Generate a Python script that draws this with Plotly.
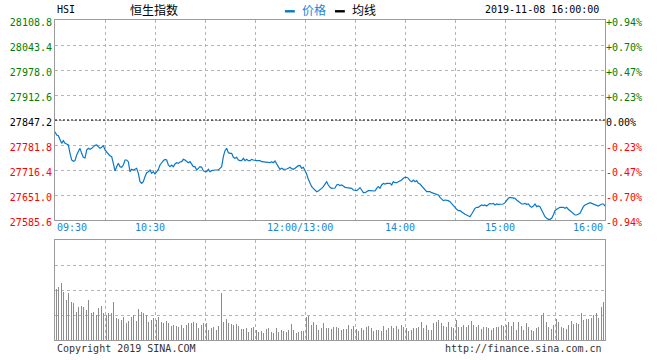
import plotly.graph_objects as go

# ---------------- data ----------------
prev_close = 27847.2

# one value per trading minute, 09:30 -> 12:00/13:00 -> 16:00 (331 minutes)
price = [
    27816.7, 27808.0, 27806.2, 27794.9, 27786.2, 27793.1, 27786.2, 27784.4, 27781.8, 27760.0,
    27742.6, 27739.1, 27740.8, 27755.6, 27766.1, 27773.1, 27760.0, 27749.5, 27747.8, 27768.7,
    27773.1, 27770.5, 27773.1, 27777.4, 27780.9, 27781.8, 27777.4, 27773.1, 27775.7, 27780.9,
    27768.7, 27762.6, 27758.3, 27753.9, 27751.3, 27733.8, 27713.8, 27725.1, 27733.8, 27725.1,
    27723.4, 27729.5, 27742.6, 27742.6, 27738.2, 27712.0, 27718.1, 27716.4, 27718.1, 27720.8,
    27707.7, 27685.9, 27681.5, 27685.9, 27699.0, 27709.4, 27712.0, 27716.4, 27707.7, 27712.0,
    27705.9, 27712.0, 27718.1, 27729.5, 27735.6, 27740.8, 27744.3, 27742.6, 27729.5, 27725.1,
    27729.5, 27725.1, 27732.1, 27735.6, 27733.8, 27737.3, 27738.2, 27744.3, 27742.6, 27739.1,
    27735.6, 27738.2, 27732.1, 27725.1, 27725.1, 27716.4, 27720.8, 27725.1, 27723.4, 27714.7,
    27712.0, 27712.0, 27718.1, 27712.0, 27714.7, 27716.4, 27716.4, 27716.4, 27716.4, 27720.8,
    27725.1, 27751.3, 27767.0, 27773.1, 27761.7, 27760.0, 27760.0, 27749.5, 27746.9, 27749.5,
    27742.6, 27740.8, 27740.8, 27746.9, 27740.8, 27744.3, 27740.8, 27740.8, 27744.3, 27742.6,
    27740.8, 27740.8, 27740.8, 27740.8, 27738.2, 27737.3, 27737.3, 27735.6, 27735.6, 27735.6,
    27738.2, 27735.6, 27739.9, 27733.8, 27725.1, 27718.1, 27720.8, 27718.1, 27718.1, 27719.0,
    27720.8, 27723.4, 27719.9, 27718.1, 27720.8, 27725.1, 27727.7, 27728.6, 27720.8, 27723.4,
    27716.4, 27705.9, 27692.0, 27679.8, 27672.8, 27668.4, 27664.1, 27659.7, 27661.5, 27664.1,
    27668.4, 27672.8, 27679.8, 27685.9, 27677.2, 27671.1, 27668.4, 27668.4, 27669.3, 27677.2,
    27678.9, 27675.4, 27677.2, 27674.5, 27671.1, 27670.2, 27669.3, 27670.2, 27668.4, 27664.1,
    27662.3, 27662.3, 27665.8, 27670.2, 27664.1, 27657.1, 27657.1, 27659.7, 27662.3, 27662.3,
    27662.3, 27662.3, 27661.5, 27668.4, 27672.8, 27668.4, 27677.2, 27681.5, 27679.8, 27681.5,
    27681.5, 27681.5, 27677.2, 27685.9, 27683.3, 27683.3, 27685.9, 27687.6, 27690.2, 27694.6,
    27697.2, 27697.2, 27694.6, 27688.5, 27685.9, 27690.2, 27685.9, 27688.5, 27681.5, 27679.8,
    27674.5, 27668.4, 27664.1, 27659.7, 27659.7, 27659.7, 27657.1, 27655.4, 27653.6, 27651.0,
    27651.0, 27644.9, 27639.7, 27636.2, 27637.9, 27637.9, 27636.2, 27633.6, 27627.5, 27624.8,
    27618.7, 27613.5, 27610.0, 27610.0, 27606.5, 27603.0, 27600.4, 27598.7, 27596.1, 27594.3,
    27601.3, 27610.0, 27616.1, 27618.7, 27618.7, 27622.2, 27624.8, 27623.1, 27624.8, 27622.2,
    27626.6, 27629.2, 27627.5, 27629.2, 27624.8, 27627.5, 27626.6, 27626.6, 27626.6, 27627.5,
    27630.9, 27637.9, 27642.3, 27644.9, 27644.0, 27644.0, 27642.3, 27637.9, 27633.6, 27629.2,
    27627.5, 27627.5, 27629.2, 27626.6, 27627.5, 27622.2, 27618.7, 27622.2, 27627.5, 27620.5,
    27622.2, 27620.5, 27611.8, 27603.0, 27594.3, 27590.0, 27587.3, 27587.3, 27590.0, 27598.7,
    27610.0, 27613.5, 27616.1, 27618.7, 27618.7, 27618.7, 27616.1, 27618.7, 27613.5, 27610.0,
    27607.4, 27603.0, 27598.7, 27598.7, 27600.4, 27603.0, 27611.8, 27620.5, 27624.8, 27627.5,
    27629.2, 27630.9, 27629.2, 27627.5, 27624.8, 27624.8, 27622.2, 27624.8, 27627.5, 27627.5, 27622.2,
]

volume = [
    51, 51, 53.3, 61, 57.3, 48.3, 44, 40, 47.3, 42.7,
    38.3, 36.7, 34, 28.3, 33.3, 30, 34, 32.7, 31.7, 30,
    40, 34, 27.3, 28.3, 30, 25, 31.7, 26.7, 34, 27.3,
    33.3, 25, 26.7, 31.7, 27.3, 38.3, 31.7, 21.7, 20.7, 21.7,
    20, 22.7, 16.7, 17.3, 19.3, 37.7, 23.3, 25, 20, 19,
    30.7, 30, 28.3, 26.7, 23.3, 25, 18.3, 26, 20, 21.7,
    18.3, 20, 22.7, 25, 18.3, 17.3, 13.3, 19, 16.7, 13.3,
    14, 15, 16.7, 14, 13.3, 16.7, 15, 11.7, 11.7, 15,
    17.3, 16.7, 17.3, 18.3, 15, 17.3, 11.7, 10, 15, 16.7,
    17.3, 16.7, 10, 16.7, 11.7, 13.3, 12.7, 10, 14, 16.7,
    46.7, 18.3, 20, 20.7, 16.7, 15, 16, 15, 15, 16,
    14, 13.3, 11, 10.7, 11.7, 11.7, 8.3, 10, 11.7, 13.3,
    15, 10, 8.3, 8.3, 9.3, 7.3, 10, 10.7, 11.7, 9.3,
    8.3, 6.7, 12.7, 11.7, 8.3, 9.3, 10, 9.3, 9.3, 8.3,
    10, 6.7, 16, 10, 8.3, 7.3, 8.3, 8.3, 9.3, 8.7,
    41.7, 23.3, 24, 16.7, 15, 18.3, 20, 15, 10, 11.7,
    11.7, 17.3, 17.3, 11.7, 11.7, 12.3, 10.7, 12.7, 10, 13.3,
    11.7, 10, 10, 10.7, 8.3, 10.7, 15, 10.7, 10.7, 14,
    13.3, 10.7, 9.3, 8.3, 11.7, 10, 12.3, 13.3, 14, 11.7,
    11.7, 9.3, 8.3, 10, 10, 13.3, 9.3, 14, 14, 10,
    11.7, 10, 14, 11.7, 9.3, 14, 10.7, 11.7, 15, 13.3,
    20.7, 11.7, 9.3, 6.7, 10, 11.7, 13.3, 11.7, 13.3, 12.7,
    18.3, 11.7, 16.7, 15, 10, 16.7, 10, 16.7, 16.7, 18.3,
    20, 23.3, 16.7, 14, 27.3, 13.3, 18.3, 11.7, 13.3, 11.7,
    23.3, 20, 13.3, 11.7, 13.3, 15, 16.7, 13.3, 15, 13.3,
    19.3, 15, 11.7, 13.3, 15, 13.3, 10.7, 12.7, 11.7, 13.3,
    11.7, 10.7, 10, 11.7, 11.7, 13.3, 13.3, 14, 15, 14,
    16.7, 15, 18.3, 11.7, 14, 18.3, 8.3, 10, 18.3, 10,
    14, 10, 12.7, 16.7, 13.3, 10, 10, 9.3, 16, 11.7,
    13.3, 11.7, 25, 27.3, 11.7, 18.3, 13.3, 15, 10.7, 15,
    18.3, 20.7, 18.3, 10, 13.3, 11.7, 11.7, 10.7, 15, 15,
    19.3, 16, 15, 16.7, 16, 23.3, 26.7, 20, 25, 20.7,
    20.7, 19.3, 21.7, 25, 21.7, 26.7, 21.7, 27.3, 33.3, 38.3, 38,
]

minutes = list(range(len(price)))

price_ticks = [28108.8, 28043.4, 27978.0, 27912.6, 27847.2, 27781.8, 27716.4, 27651.0, 27585.6]
pct_labels = ["+0.94%", "+0.70%", "+0.47%", "+0.23%", "0.00%", "-0.23%", "-0.47%", "-0.70%", "-0.94%"]
time_tick_minutes = [0, 60, 150, 210, 270, 330]
time_tick_labels = ["09:30", "10:30", "12:00/13:00", "14:00", "15:00", "16:00"]
grid_minutes = list(range(0, 331, 30))
volume_max = 100
volume_grid = [25, 50, 75]

symbol = "HSI"
name = "恒生指数"
stamp = "2019-11-08 16:00:00"

# ---------------- styling ----------------
MONO = "DejaVu Sans Mono"
CJK = "Noto Sans CJK SC"
GREEN = "#008000"
RED = "#ff0000"
BLUE_LINE = "#0a78c8"
BLUE_TXT = "#1a86d4"
GRID = "#b4b4b4"
FRAME = "#9a9a9a"

def colored(v, text):
    if v > prev_close + 1e-6:
        c = GREEN
    elif v < prev_close - 1e-6:
        c = RED
    else:
        c = "#000000"
    return f'<span style="color:{c}">{text}</span>'

left_text = [colored(v, f"{v:.1f}") for v in price_ticks]
pct = [(p - prev_close) / prev_close * 100 for p in price]
pct_vals = [(v - prev_close) / prev_close * 100 for v in price_ticks]
right_text = [colored(v, t) for v, t in zip(price_ticks, pct_labels)]
pct_range = [(price_ticks[-1] - prev_close) / prev_close * 100,
             (price_ticks[0] - prev_close) / prev_close * 100]

fig = go.Figure()
fig.add_trace(go.Scatter(x=minutes, y=price, mode="lines",
                         line=dict(color=BLUE_LINE, width=1.2),
                         xaxis="x", yaxis="y", hoverinfo="skip", showlegend=False))
fig.add_trace(go.Scatter(x=minutes, y=pct, mode="lines",
                         line=dict(color="rgba(0,0,0,0)", width=0),
                         xaxis="x", yaxis="y3", hoverinfo="skip", showlegend=False))
fig.add_trace(go.Bar(x=minutes, y=volume, marker=dict(color="#8c8c8c", line=dict(width=0)),
                     width=0.45, xaxis="x2", yaxis="y2", hoverinfo="skip", showlegend=False))

xcommon = dict(range=[0, 330], tickvals=grid_minutes, showticklabels=False,
               showgrid=True, gridcolor=GRID, griddash="dot", gridwidth=1,
               showline=True, mirror=True, linecolor=FRAME, linewidth=1,
               zeroline=False, ticks="", fixedrange=True)

fig.update_layout(
    width=660, height=360,
    margin=dict(l=55, r=55, t=20, b=20, autoexpand=False),
    paper_bgcolor="white", plot_bgcolor="white",
    showlegend=False, bargap=0, hovermode=False,
    xaxis=dict(domain=[0, 1], anchor="y", **xcommon),
    xaxis2=dict(domain=[0, 1], anchor="y2", **xcommon),
    yaxis=dict(domain=[0.375, 1], range=[price_ticks[-1], price_ticks[0]],
               tickvals=price_ticks, ticktext=left_text,
               tickfont=dict(family=MONO, size=10),
               showgrid=True, gridcolor=GRID, griddash="dot",
               showline=True, mirror=True, linecolor=FRAME, linewidth=1,
               zeroline=False, ticks="", ticklabelshift=2, fixedrange=True),
    yaxis3=dict(overlaying="y", side="right", range=pct_range,
                tickvals=pct_vals, ticktext=right_text,
                tickfont=dict(family=MONO, size=10),
                showgrid=False, showline=False, zeroline=False, ticks="",
                ticklabelshift=2, fixedrange=True),
    yaxis2=dict(domain=[0, 0.3125], range=[0, volume_max], tickvals=volume_grid,
                showticklabels=False, showgrid=True, gridcolor=GRID, griddash="dot",
                showline=True, mirror=True, linecolor=FRAME, linewidth=1,
                zeroline=False, ticks="", fixedrange=True),
)

# previous close dashed line
fig.add_shape(type="line", xref="x", yref="y", x0=0, x1=330, y0=prev_close, y1=prev_close,
              line=dict(color="black", width=1, dash="2px,2px"))

# time labels
for m, lab in zip(time_tick_minutes, time_tick_labels):
    if m == time_tick_minutes[0]:
        anchor, shift = "left", 0
    elif m == time_tick_minutes[-1]:
        anchor, shift = "right", 0
    else:
        anchor, shift = "center", -5
    fig.add_annotation(x=m, xref="x", y=0.375, yref="paper", yanchor="top",
                       xanchor=anchor, xshift=shift, yshift=0, text=lab, showarrow=False,
                       font=dict(family=MONO, size=10, color=BLUE_TXT))

hy = 1.033
fig.add_annotation(x=0, xref="paper", y=hy, yref="paper", xanchor="left", yanchor="middle",
                   text=symbol, showarrow=False, font=dict(family=MONO, size=10, color="black"))
fig.add_annotation(x=0.18, xref="paper", y=hy, yref="paper", xanchor="center", yanchor="middle",
                   text=name, showarrow=False, font=dict(family=CJK, size=12, color="black"))
fig.add_shape(type="rect", xref="paper", yref="paper", x0=0.418, x1=0.436, y0=1.0235, y1=1.031,
              fillcolor=BLUE_LINE, line=dict(width=0))
fig.add_annotation(x=0.445, xref="paper", y=hy, yref="paper", xanchor="left", yanchor="middle",
                   text="价格", showarrow=False, font=dict(family=CJK, size=12, color=BLUE_TXT))
fig.add_shape(type="rect", xref="paper", yref="paper", x0=0.509, x1=0.527, y0=1.0235, y1=1.031,
              fillcolor="black", line=dict(width=0))
fig.add_annotation(x=0.537, xref="paper", y=hy, yref="paper", xanchor="left", yanchor="middle",
                   text="均线", showarrow=False, font=dict(family=CJK, size=12, color="black"))
fig.add_annotation(x=0.993, xref="paper", y=hy, yref="paper", xanchor="right", yanchor="middle",
                   text=stamp, showarrow=False, font=dict(family=MONO, size=10, color="black"))

fig.add_annotation(x=0, xref="paper", y=-0.028, yref="paper", xanchor="left", yanchor="middle",
                   text="Copyright 2019 SINA.COM", showarrow=False,
                   font=dict(family=MONO, size=10, color="#333333"))
fig.add_annotation(x=0.998, xref="paper", y=-0.028, yref="paper", xanchor="right", yanchor="middle",
                   text="http://finance.sina.com.cn", showarrow=False,
                   font=dict(family=MONO, size=10, color="#333333"))

fig.write_html("out.html", config={"displayModeBar": False, "staticPlot": True},
               post_script="document.body.style.margin='0px';")
